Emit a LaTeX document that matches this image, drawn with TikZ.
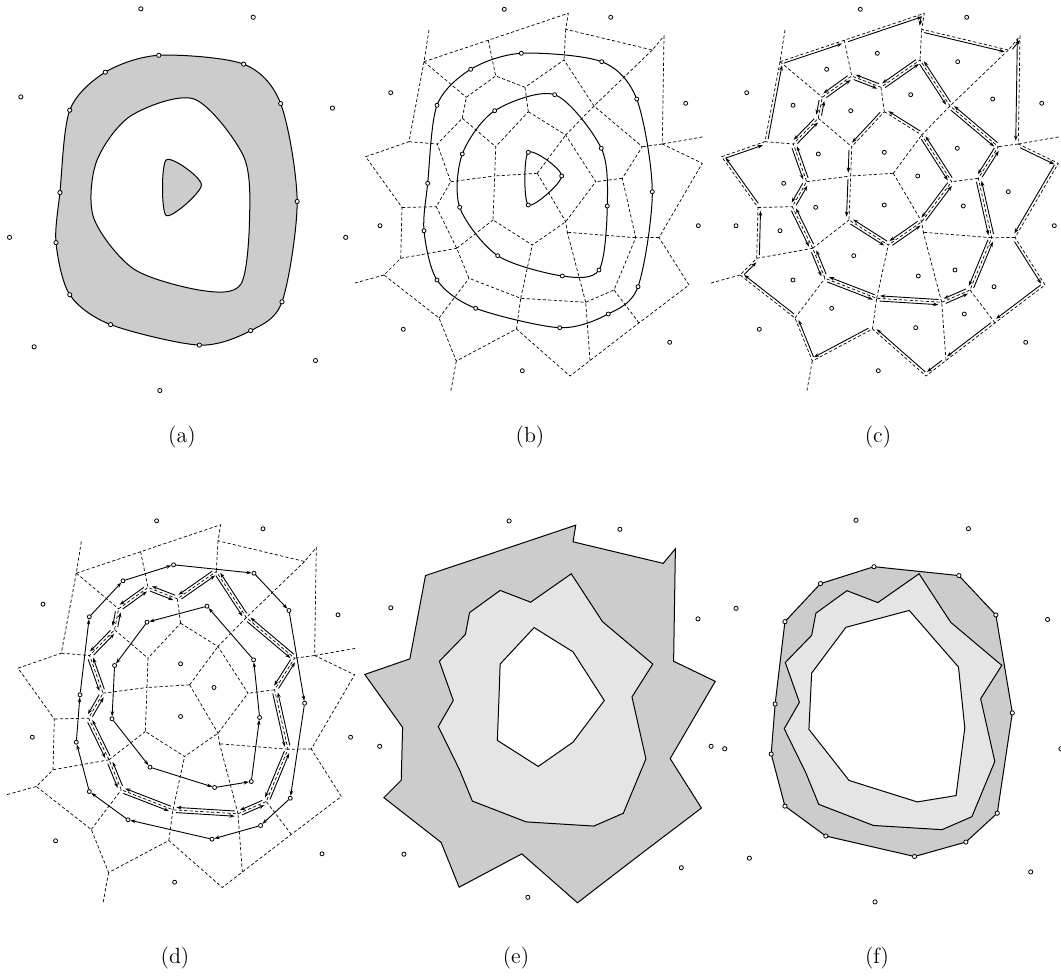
\documentclass[tikz,border=0pt]{standalone}
\usepackage{tikz}
\usetikzlibrary{arrows.meta, calc}

\definecolor{bandgray}{gray}{0.8}
\definecolor{ringgray}{gray}{0.9}

% offset of a directed edge from its Voronoi edge
\newcommand{\hoff}{1.3pt}

% point set: outer seeds o, band seeds b, ring seeds m, core seeds i
\newcommand{\defseeds}{%
  \coordinate (o1) at (155.3,9.3);   \coordinate (o2) at (261.7,17.3);
  \coordinate (o3) at (41.7,92.7);   \coordinate (o4) at (336.7,103.3);
  \coordinate (o5) at (31,225.7);    \coordinate (o6) at (349.3,225.7);
  \coordinate (o7) at (54.3,329.3);  \coordinate (o8) at (320.7,342.3);
  \coordinate (o9) at (173.3,370.7);
  \coordinate (b1) at (172.3,53.3);  \coordinate (b2) at (252.7,61.7);
  \coordinate (b3) at (287.7,99);    \coordinate (b4) at (303.3,191.7);
  \coordinate (b5) at (289,286.7);   \coordinate (b6) at (259.3,314);
  \coordinate (b7) at (210.7,327.7); \coordinate (b8) at (126.7,308.3);
  \coordinate (b9) at (88,280);      \coordinate (b10) at (75,230.7);
  \coordinate (b11) at (78.7,183.3); \coordinate (b12) at (88,105.3);
  \coordinate (b13) at (121.7,69.3);
  \coordinate (m1) at (145.7,110.7); \coordinate (m2) at (205.7,94.7);
  \coordinate (m3) at (252.3,148.3); \coordinate (m4) at (258.3,206);
  \coordinate (m5) at (250,270);     \coordinate (m6) at (213.3,276);
  \coordinate (m7) at (148.7,255.7); \coordinate (m8) at (110.7,207.3);
  \coordinate (m9) at (113.3,154);
  \coordinate (i1) at (179.3,152.3); \coordinate (i2) at (212.7,176);
  \coordinate (i3) at (179.3,205);
}

% Voronoi vertices: hull v, inner w
\newcommand{\defvertices}{%
  \coordinate (vA) at (80,30);      \coordinate (vB) at (75,61.7);
  \coordinate (vC) at (139.3,40.2); \coordinate (vD) at (219.3,13.3);
  \coordinate (vE) at (216.7,29.3); \coordinate (vF) at (303.3,50);
  \coordinate (vG) at (315,36);     \coordinate (vH) at (313.3,144);
  \coordinate (vI) at (355,136.7);  \coordinate (vJ) at (353.3,163.3);
  \coordinate (vK) at (310,237.5);  \coordinate (vL) at (340,285);
  \coordinate (vM) at (290,322.9);  \coordinate (vN) at (241,360.5);
  \coordinate (vO) at (221,376);    \coordinate (vP) at (167.5,329);
  \coordinate (vQ) at (107.3,361);  \coordinate (vR) at (101.7,391.7);
  \coordinate (vS) at (90,318);     \coordinate (vT) at (35,275);
  \coordinate (vU) at (5,283.3);    \coordinate (vV) at (51.7,258.3);
  \coordinate (vW) at (53,207.5);   \coordinate (vX) at (16.7,156.7);
  \coordinate (vY) at (60,141.7);
  \coordinate (w1) at (146.7,76);   \coordinate (w2) at (117.3,97.3);
  \coordinate (w3) at (215,60);     \coordinate (w4) at (176,87.3);
  \coordinate (w5) at (179.3,111.7); \coordinate (w6) at (113.3,118.3);
  \coordinate (w7) at (88.3,144);   \coordinate (w8) at (101.7,181.7);
  \coordinate (w9) at (146.7,146.7); \coordinate (w10) at (145.7,176);
  \coordinate (w11) at (188.3,173.3); \coordinate (w12) at (216.7,135);
  \coordinate (w13) at (245,106);   \coordinate (w14) at (293.3,146.7);
  \coordinate (w15) at (273.3,178.3); \coordinate (w16) at (246.7,181.7);
  \coordinate (w17) at (216.7,221.7); \coordinate (w18) at (218.3,232.3);
  \coordinate (w19) at (183.3,245); \coordinate (w20) at (286.7,237.7);
  \coordinate (w21) at (265,290);   \coordinate (w22) at (236.7,302.3);
  \coordinate (w23) at (171.7,298.3); \coordinate (w24) at (120,278.3);
  \coordinate (w25) at (107.7,248.3); \coordinate (w26) at (87.3,206.7);
  \coordinate (w27) at (144,220);
}

\newcommand{\drawvoronoi}{%
  \draw[voredge] (vB) -- (vC) -- (vD) -- (vE) -- (vF) -- (vG) -- (vH) -- (vJ) -- (vK) -- (vL) -- (vM)
    -- (vN) -- (vO) -- (vP) -- (vQ) -- (vS) -- (vT) -- (vV) -- (vW) -- (vX) -- (vY) -- cycle;
  \draw[voredge] (vA) -- (vB) (vH) -- (vI) (vQ) -- (vR) (vT) -- (vU);
  \draw[voredge] (vC) -- (w1) (vB) -- (w2) (vE) -- (w3) (vF) -- (w13) (vH) -- (w14) (vK) -- (w20)
    (vM) -- (w21) (vN) -- (w22) (vP) -- (w23) (vS) -- (w24) (vV) -- (w25) (vW) -- (w26) (vY) -- (w7);
  \draw[voredge] (w2) -- (w1) -- (w4) -- (w3) -- (w13) -- (w14) -- (w15) -- (w20) -- (w21) -- (w22)
    -- (w23) -- (w24) -- (w25) -- (w26) -- (w8) -- (w7) -- (w6) -- cycle;
  \draw[voredge] (w4) -- (w5) (w13) -- (w12) (w15) -- (w16) (w20) -- (w18) (w22) -- (w18)
    (w23) -- (w19) (w25) -- (w27) (w8) -- (w10) (w6) -- (w9);
  \draw[voredge] (w5) -- (w12) -- (w16) -- (w17) -- (w19) -- (w27) -- (w10) -- (w9) -- cycle;
  \draw[voredge] (w11) -- (w12) (w11) -- (w10) (w11) -- (w17) -- (w18);
}

% directed edge, drawn beside the Voronoi edge on its right
\newcommand{\hedge}[2]{\draw[halfedge] ($(#1)!\hoff!-90:(#2)$) -- ($(#2)!\hoff!90:(#1)$);}

\newcommand{\hullarrows}{%
  \foreach \p/\q in {vB/vC, vC/vD, vD/vE, vE/vF, vF/vG, vG/vH, vH/vJ, vJ/vK, vK/vL, vL/vM, vM/vN,
    vN/vO, vO/vP, vP/vQ, vQ/vS, vS/vT, vT/vV, vV/vW, vW/vX, vX/vY, vY/vB} {\hedge{\p}{\q}}}
\newcommand{\bandarrows}{%
  \foreach \p/\q in {w2/w1, w1/w4, w4/w3, w3/w13, w13/w14, w14/w15, w15/w20, w20/w21, w21/w22,
    w22/w23, w23/w24, w24/w25, w25/w26, w26/w8, w8/w7, w7/w6, w6/w2} {\hedge{\p}{\q}\hedge{\q}{\p}}}
\newcommand{\corearrows}{%
  \foreach \p/\q in {w12/w5, w5/w9, w9/w10, w10/w27} {\hedge{\p}{\q}}
  \foreach \p/\q in {w27/w19, w19/w17, w17/w16, w16/w12} {\hedge{\p}{\q}\hedge{\q}{\p}}}

\newcommand{\drawseeds}[2]{\foreach \n in {1,...,#2} \draw[seed] (#1\n) circle[radius=1pt];}
\newcommand{\allseeds}{\drawseeds{o}{9}\drawseeds{b}{13}\drawseeds{m}{9}\drawseeds{i}{3}}

\begin{document}
\begin{tikzpicture}[x=0.5pt, y=-0.5pt,
  voredge/.style={line width=0.35pt, dash pattern=on 1.6pt off 1.1pt},
  halfedge/.style={line width=0.45pt, -{Stealth[length=2.6pt,width=1.8pt]}, shorten <=1.6pt, shorten >=1.6pt},
  seedarrow/.style={line width=0.45pt, -{Stealth[length=2.6pt,width=1.8pt]}, shorten <=1.2pt, shorten >=1.2pt},
  contour/.style={line width=0.5pt},
  region/.style={draw=black, line width=0.5pt},
  seed/.style={draw=black, fill=white, line width=0.4pt},
  panel/.style={font=\fontsize{11}{13}\selectfont}
]
  \useasboundingbox (0,0) rectangle (1061,979);

  % (a) filled regions
  \begin{scope}[shift={(-23.2,-1)}, scale=1.056]
    \defseeds
    \filldraw[region, fill=bandgray] plot[smooth cycle] coordinates {(b1) (b2) (b3) (b4) (b5) (b6) (b7) (b8) (b9) (b10) (b11) (b12) (b13)};
    \filldraw[region, fill=white] plot[smooth cycle] coordinates {(m1) (m2) (m3) (m4) (m5) (m6) (m7) (m8) (m9)};
    \filldraw[region, fill=bandgray] plot[smooth cycle] coordinates {(i1) (i2) (i3)};
    \drawseeds{o}{9}\drawseeds{b}{13}
  \end{scope}

  % (b) contours over the Voronoi diagram
  \begin{scope}[shift={(349,0)}]
    \defseeds \defvertices
    \drawvoronoi
    \draw[contour] plot[smooth cycle] coordinates {(b1) (b2) (b3) (b4) (b5) (b6) (b7) (b8) (b9) (b10) (b11) (b12) (b13)};
    \draw[contour] plot[smooth cycle] coordinates {(m1) (m2) (m3) (m4) (m5) (m6) (m7) (m8) (m9)};
    \draw[contour] plot[smooth cycle] coordinates {(i1) (i2) (i3)};
    \allseeds
  \end{scope}

  % (c) directed boundary edges
  \begin{scope}[shift={(705,0)}]
    \defseeds \defvertices
    \drawvoronoi
    \hullarrows \bandarrows \corearrows
    \allseeds
  \end{scope}

  % (d) seed loops
  \begin{scope}[shift={(1.3,511.5)}]
    \defseeds \defvertices
    \drawvoronoi
    \bandarrows
    \foreach \j [remember=\j as \k (initially 13)] in {1,...,13} \draw[seedarrow] (b\k) -- (b\j);
    \foreach \j [remember=\j as \k (initially 1)] in {9,8,...,1} \draw[seedarrow] (m\k) -- (m\j);
    \allseeds
  \end{scope}

  % (e) union of cells
  \begin{scope}[shift={(347.4,511.3)}, scale=1.041]
    \defseeds \defvertices
    \filldraw[region, fill=bandgray] (vB) -- (vC) -- (vD) -- (vE) -- (vF) -- (vG) -- (vH) -- (vJ) -- (vK) -- (vL) -- (vM)
      -- (vN) -- (vO) -- (vP) -- (vQ) -- (vS) -- (vT) -- (vV) -- (vW) -- (vX) -- (vY) -- cycle;
    \filldraw[region, fill=ringgray] (w2) -- (w1) -- (w4) -- (w3) -- (w13) -- (w14) -- (w15) -- (w20) -- (w21) -- (w22)
      -- (w23) -- (w24) -- (w25) -- (w26) -- (w8) -- (w7) -- (w6) -- cycle;
    \filldraw[region, fill=white] (w5) -- (w12) -- (w16) -- (w17) -- (w19) -- (w27) -- (w10) -- (w9) -- cycle;
    \drawseeds{o}{9}
  \end{scope}

  % (f) polygons
  \begin{scope}[shift={(692,510.4)}, scale=1.056]
    \defseeds \defvertices
    \filldraw[region, fill=bandgray] (b1) -- (b2) -- (b3) -- (b4) -- (b5) -- (b6) -- (b7) -- (b8) -- (b9) -- (b10)
      -- (b11) -- (b12) -- (b13) -- cycle;
    \filldraw[region, fill=ringgray] (w2) -- (w1) -- (w4) -- (w3) -- (w13) -- (w14) -- (w15) -- (w20) -- (w21) -- (w22)
      -- (w23) -- (w24) -- (w25) -- (w26) -- (w8) -- (w7) -- (w6) -- cycle;
    \filldraw[region, fill=white] (m1) -- (m2) -- (m3) -- (m4) -- (m5) -- (m6) -- (m7) -- (m8) -- (m9) -- cycle;
    \drawseeds{o}{9}\drawseeds{b}{13}
  \end{scope}

  \node[panel] (lab-a) at (182,437) {(a)};
  \node[panel] (lab-b) at (530,437) {(b)};
  \node[panel] (lab-c) at (878,437) {(c)};
  \node[panel] (lab-d) at (175,958) {(d)};
  \node[panel] (lab-e) at (516,958) {(e)};
  \node[panel] (lab-f) at (877,958) {(f)};
\end{tikzpicture}
\end{document}
